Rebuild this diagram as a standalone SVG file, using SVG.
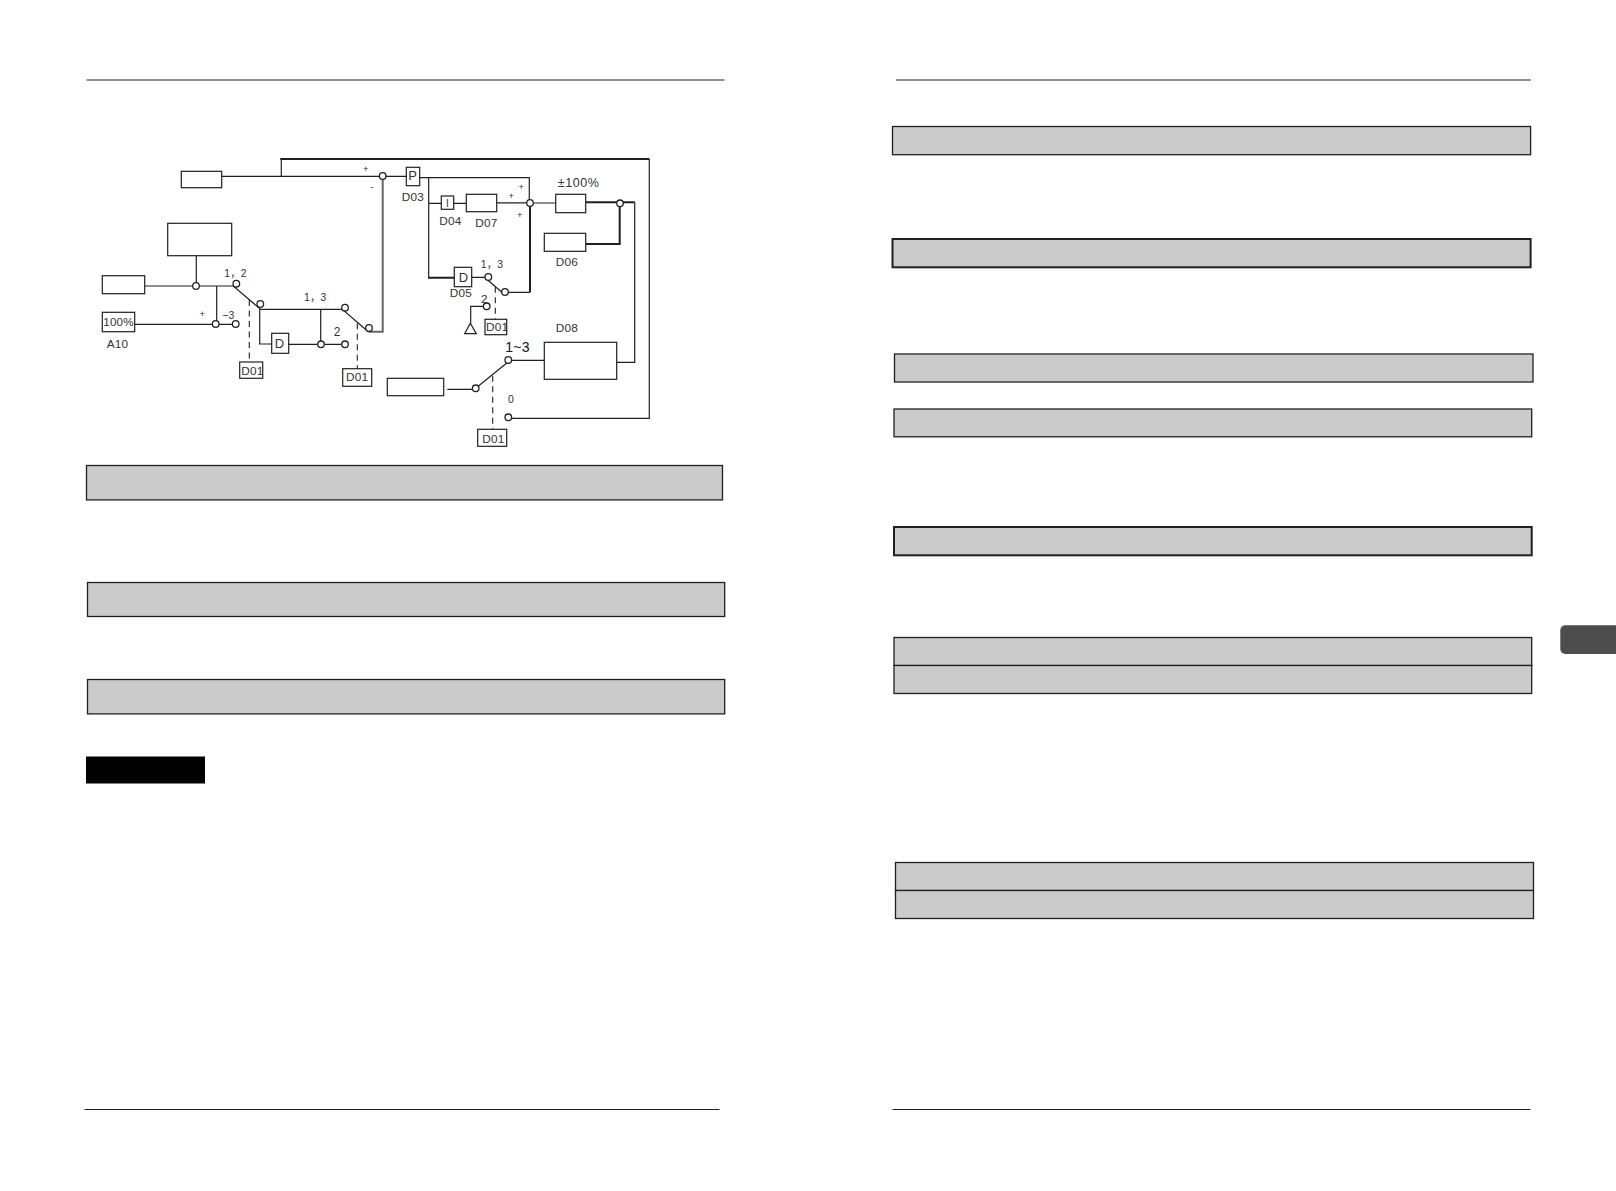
<svg xmlns="http://www.w3.org/2000/svg" width="1616" height="1191" viewBox="0 0 1616 1191">
<style>
.bar{fill:#cbcbcb;stroke:#231f20;stroke-width:1.3}
.bar2{fill:#cbcbcb;stroke:#231f20;stroke-width:2}
.rule{stroke:#231f20;stroke-width:1.2;fill:none}
.box{fill:#fff;stroke:#231f20;stroke-width:1.2}
.w{stroke:#231f20;stroke-width:1.2;fill:none}
.t{stroke:#231f20;stroke-width:2;fill:none}
.g{stroke:#666;stroke-width:2;fill:none}
.d{stroke:#231f20;stroke-width:1.1;fill:none;stroke-dasharray:6 4.5}
.c{fill:#fff;stroke:#231f20;stroke-width:1.3}
text{font-family:"Liberation Sans","Noto Sans CJK SC",sans-serif;font-size:11.8px;fill:#333;letter-spacing:.2px}
.s{font-size:10.4px}
.p{font-size:9.5px}
.m{font-size:13px;text-anchor:middle}
</style>
<rect width="1616" height="1191" fill="#fff"/>
<g id="page-rules">
<path class="rule" d="M86.6 80H724.5M896 80H1531M84.5 1109.5H719.5M892.5 1109.5H1530.5"/>
</g>
<g id="left-bars">
<rect class="bar" x="86.5" y="465.5" width="636" height="34.4"/>
<rect class="bar" x="87.5" y="582.5" width="637.2" height="34"/>
<rect class="bar" x="87.5" y="679.5" width="637.2" height="34.4"/>
<rect x="86" y="756.5" width="119" height="27" fill="#000"/>
</g>
<g id="right-bars">
<rect class="bar" x="892.5" y="126.5" width="638.1" height="28.2"/>
<rect class="bar2" x="892.5" y="239" width="638.1" height="28.3"/>
<rect class="bar" x="894.5" y="354" width="638.5" height="28"/>
<rect class="bar" x="894" y="409" width="637.7" height="27.8"/>
<rect class="bar2" x="894" y="527" width="637.7" height="28.3"/>
<rect class="bar" x="894" y="637.5" width="637.7" height="28"/>
<rect class="bar" x="894" y="665.5" width="637.7" height="28"/>
<rect class="bar" x="895.5" y="862.5" width="638" height="28"/>
<rect class="bar" x="895.5" y="890.5" width="638" height="28"/>
<path d="M1616 625.3H1565.3a5 5 0 0 0-5 5V649a5 5 0 0 0 5 5H1616Z" fill="#4d4d4f"/>
</g>
<g id="connectors">
<path class="w" d="M221.7 176.3H379.4M386 176.3H406.3M281.3 176.3V159"/>
<path class="t" d="M280.3 159H649.3"/>
<path class="w" d="M649.3 159V418.3H511.6"/>
<path class="g" d="M382.7 179.6V331.7H368.3"/>
<path class="w" d="M144.7 286H233.3L260 308.8"/>
<path class="w" d="M196.3 255.7V286M216.7 286V324.3M134.7 324.3H232.4"/>
<path class="w" d="M259.3 309.3H342.3L368.3 331.7M259.7 309.3V344H271.7M288.7 344.3H341.7M320.7 309.3V344"/>
<path class="d" d="M249.3 300V362M357.3 323.3V368.7M495.3 286.7V319.3M492.7 375.7V429.3"/>
<path class="w" d="M419.7 177.7H529.3V199.7M428.7 177.7V277.7M428.7 203.3H441.3M453.7 203.3H466.3M496.7 202.8H526.7M533.3 203H555.7"/>
<path class="t" d="M428 277.7H454.3M585.7 202.3H634.7M585.7 244H619.7V206.6M530 206.3V292.3"/>
<path class="w" d="M634.7 202.3V362.3H616.7"/>
<path class="w" d="M471.7 277.3H485M485.7 278.3L505 295M508 292.3H530M483.4 306.3H470.7V323.3"/>
<path class="w" d="M447.3 389.3H472.4M475.7 388.3L508.3 361.7M511 360.3H544.3"/>
<path class="w" d="M464.7 333.7H476.3L470.3 323.3Z"/>
</g>
<g id="junctions">
<circle class="c" cx="382.7" cy="176" r="3.3"/><circle class="c" cx="196" cy="286" r="3.3"/>
<circle class="c" cx="236.3" cy="283.7" r="3.3"/><circle class="c" cx="260.3" cy="304" r="3.3"/>
<circle class="c" cx="215.7" cy="324" r="3.3"/><circle class="c" cx="235.7" cy="324" r="3.3"/>
<circle class="c" cx="321" cy="344.3" r="3.3"/><circle class="c" cx="345" cy="344.3" r="3.3"/>
<circle class="c" cx="345" cy="307.7" r="3.3"/><circle class="c" cx="369" cy="328" r="3.3"/>
<circle class="c" cx="530" cy="203" r="3.3"/><circle class="c" cx="620" cy="203.3" r="3.3"/>
<circle class="c" cx="488.3" cy="277" r="3.3"/><circle class="c" cx="505" cy="292" r="3.3"/>
<circle class="c" cx="486.7" cy="306.3" r="3.3"/><circle class="c" cx="475.7" cy="388.3" r="3.3"/>
<circle class="c" cx="508.3" cy="360" r="3.3"/><circle class="c" cx="508.3" cy="417.3" r="3.3"/>
</g>
<g id="node-top-input"><rect class="box" x="181.3" y="171.3" width="40.4" height="16.4"/></g>
<g id="node-large"><rect class="box" x="167.7" y="223.3" width="64" height="32.4"/></g>
<g id="node-left-input"><rect class="box" x="102.3" y="275.7" width="42.4" height="18"/></g>
<g id="node-a10"><rect class="box" x="102.3" y="312.3" width="32.4" height="19.4"/><text x="103.3" y="326" style="font-size:11.6px">100%</text><text x="106.7" y="347.7">A10</text></g>
<g id="node-d1"><rect class="box" x="271.7" y="333.3" width="17" height="20"/><text class="m" x="279.5" y="348">D</text></g>
<g id="node-d01a"><rect class="box" x="239.7" y="362" width="23" height="16.3"/><text x="241.3" y="374.7">D01</text></g>
<g id="node-d01b"><rect class="box" x="342.7" y="368.7" width="29" height="17.6"/><text x="346" y="381.3">D01</text></g>
<g id="node-p"><rect class="box" x="406.3" y="167.3" width="13.4" height="18.4"/><text class="m" x="412.8" y="180">P</text><text x="401.7" y="200.7">D03</text></g>
<g id="node-i"><rect class="box" x="441.3" y="196" width="12.4" height="13.3"/><text class="s" x="447.5" y="207.4" text-anchor="middle">I</text><text x="439.3" y="224.7">D04</text></g>
<g id="node-d07"><rect class="box" x="466.3" y="194.3" width="30.4" height="17.4"/><text x="475.2" y="227">D07</text></g>
<g id="node-d05"><rect class="box" x="454.3" y="267.3" width="17.4" height="19.4"/><text class="m" x="463.5" y="282">D</text><text x="449.7" y="296.7">D05</text></g>
<g id="node-limit"><rect class="box" x="555.7" y="194.3" width="30" height="18.4"/><text x="557.7" y="187" style="font-size:12.5px;letter-spacing:.6px">±100%</text></g>
<g id="node-d06"><rect class="box" x="544.3" y="233.3" width="41.4" height="18"/><text x="555.7" y="266">D06</text></g>
<g id="node-d08"><rect class="box" x="544.3" y="342.3" width="72.4" height="37"/><text x="555.7" y="331.7">D08</text></g>
<g id="node-output"><rect class="box" x="387.3" y="378.3" width="56.4" height="17.4"/></g>
<g id="node-d01c"><rect class="box" x="485" y="319.3" width="21.7" height="15.4"/><text x="486" y="331.3">D01</text></g>
<g id="node-d01d"><rect class="box" x="477.7" y="429.3" width="29" height="17"/><text x="482.3" y="442.7">D01</text></g>
<g id="labels">
<text class="s" x="224.3" y="277">1，2</text>
<text class="s" x="304" y="300.7">1，3</text>
<text x="333.7" y="335.7" style="font-size:12px">2</text>
<text class="p" x="199.5" y="317">+</text>
<text class="s" x="222.3" y="319">−3</text>
<text class="p" x="363" y="172">+</text>
<text class="p" x="370.5" y="190">-</text>
<text class="s" x="480.7" y="267.7">1，3</text>
<text x="481" y="303.3">2</text>
<text class="p" x="518.5" y="190">+</text>
<text class="p" x="508.5" y="199">+</text>
<text class="p" x="517" y="218">+</text>
<text x="505.3" y="351.7" style="font-size:14px;fill:#111">1~3</text>
<text class="s" x="508" y="403.3">0</text>
</g>
</svg>
